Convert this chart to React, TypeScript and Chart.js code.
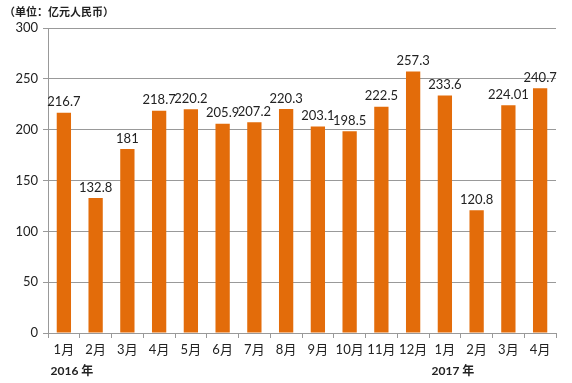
import React, { useEffect, useRef } from "react";
import { Chart, registerables } from "chart.js";

Chart.register(...registerables);

const categories = ["1月", "2月", "3月", "4月", "5月", "6月", "7月", "8月", "9月", "10月", "11月", "12月", "1月", "2月", "3月", "4月"];
const values = [216.7, 132.8, 181, 218.7, 220.2, 205.9, 207.2, 220.3, 203.1, 198.5, 222.5, 257.3, 233.6, 120.8, 224.01, 240.7];
const valueLabels = ["216.7", "132.8", "181", "218.7", "220.2", "205.9", "207.2", "220.3", "203.1", "198.5", "222.5", "257.3", "233.6", "120.8", "224.01", "240.7"];
const yearLabels = [
  { index: 0, text: "2016 年" },
  { index: 12, text: "2017 年" },
];
const unitTitle = "（单位：亿元人民币）";

const FONT = "Lato, 'Noto Sans CJK SC', sans-serif";

const overlayPlugin = {
  id: "overlay",
  afterDatasetsDraw(chart: any) {
    const ctx = chart.ctx;
    const meta = chart.getDatasetMeta(0);
    ctx.save();
    ctx.fillStyle = "#222";
    ctx.font = "13px " + FONT;
    ctx.textAlign = "center";
    ctx.textBaseline = "bottom";
    meta.data.forEach((bar: any, i: number) => {
      ctx.fillText(valueLabels[i], bar.x, bar.y - 4);
    });
    // title
    ctx.font = "bold 11px 'Noto Sans CJK SC', sans-serif";
    ctx.textAlign = "left";
    ctx.textBaseline = "middle";
    ctx.fillText(unitTitle, 4, 12);
    // year labels
    ctx.font = "bold 12px " + FONT;
    ctx.textAlign = "center";
    ctx.textBaseline = "middle";
    const xs = chart.scales.x;
    yearLabels.forEach((y) => {
      const px = xs.getPixelForValue(y.index);
      ctx.fillText(y.text, px + 8, 371);
    });
    ctx.restore();
  },
};

export default function App() {
  const ref = useRef<HTMLCanvasElement>(null);
  useEffect(() => {
    document.body.style.margin = "0";
    const chart = new Chart(ref.current!, {
      type: "bar",
      data: {
        labels: categories,
        datasets: [
          {
            data: values,
            backgroundColor: "#E36C0A",
            borderWidth: 0,
            barPercentage: 0.9,
            categoryPercentage: 0.5,
          },
        ],
      },
      options: {
        responsive: false,
        animation: false,
        layout: { padding: { top: 28, right: 16, left: 0, bottom: 0 } },
        plugins: { legend: { display: false }, tooltip: { enabled: false } },
        scales: {
          x: {
            grid: { display: true, offset: true, drawOnChartArea: false, color: "#999", tickLength: 5 },
            border: { color: "#999" },
            ticks: { color: "#222", font: { size: 13, family: FONT }, padding: 4, maxRotation: 0, autoSkip: false },
            afterFit: (s: any) => { s.height = 50; },
          },
          y: {
            min: 0,
            max: 300,
            ticks: { stepSize: 50, color: "#222", font: { size: 13, family: FONT }, padding: 5 },
            grid: { color: "#999", tickLength: 5 },
            border: { color: "#999" },
            afterFit: (s: any) => { s.width = 48; },
          },
        },
      },
      plugins: [overlayPlugin],
    });
    return () => chart.destroy();
  }, []);
  return (
    <div style={{ width: 572, height: 383 }}>
      <canvas ref={ref} width={572} height={383} style={{ display: "block" }} />
    </div>
  );
}
